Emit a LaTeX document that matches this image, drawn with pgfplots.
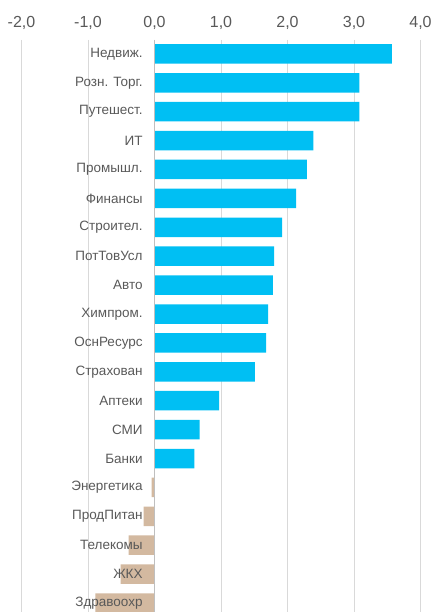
\documentclass[border=0pt]{standalone}
\usepackage{pgfplots}
\pgfplotsset{compat=1.18}
\usepackage{fontspec}
\setmainfont{Liberation Sans}
\definecolor{barblue}{RGB}{0,191,243}
\definecolor{bartan}{RGB}{211,185,160}
\definecolor{txtgray}{RGB}{89,89,89}
\definecolor{gridgray}{RGB}{217,217,217}
\definecolor{zerogray}{RGB}{191,191,191}
\tikzset{cat/.style={font=\fontsize{13.5}{13.5}\selectfont, text=txtgray, anchor=east, xshift=-11.7pt, inner sep=0pt}}
\begin{document}
\begin{tikzpicture}
\useasboundingbox (0,0) rectangle (433pt,612pt);
\begin{axis}[
  at={(21.5pt,0pt)}, anchor=south west,
  scale only axis, width=399pt, height=572pt,
  xmin=-2, xmax=4, ymin=-0.48, ymax=19.31,
  y dir=reverse,
  xbar, bar width=19.5pt,
  axis line style={draw=none},
  xtick={-2,-1,0,1,2,3,4},
  ytick=\empty,
  xticklabel pos=top,
  xmajorgrids, grid style={gridgray, line width=0.8pt},
  major tick length=0pt,
  xticklabel style={font=\fontsize{16}{16}\selectfont, text=txtgray, yshift=7pt},
  /pgf/number format/.cd, fixed, fixed zerofill, precision=1, use comma, assume math mode=true,
  /pgfplots/.cd,
  clip=false,
]
\addplot[draw=none, fill=barblue, bar shift=0pt] coordinates {
(3.57,0) (3.08,1) (3.08,2) (2.39,3) (2.29,4) (2.13,5) (1.92,6) (1.80,7) (1.78,8) (1.71,9)
(1.68,10) (1.51,11) (0.97,12) (0.68,13) (0.60,14)
};
\addplot[draw=none, fill=bartan, bar shift=0pt] coordinates {
(-0.045,15) (-0.165,16) (-0.39,17) (-0.51,18) (-0.89,19)
};
\draw[zerogray, line width=1pt] (axis cs:0,-0.48) -- (axis cs:0,19.31);
\node[cat] at (axis cs:0,0) {Недвиж.};
\node[cat] at (axis cs:0,1) {Розн. Торг.};
\node[cat] at (axis cs:0,2) {Путешест.};
\node[cat] at (axis cs:0,3) {ИТ};
\node[cat] at (axis cs:0,4) {Промышл.};
\node[cat] at (axis cs:0,5) {Финансы};
\node[cat] at (axis cs:0,6) {Строител.};
\node[cat] at (axis cs:0,7) {ПотТовУсл};
\node[cat] at (axis cs:0,8) {Авто};
\node[cat] at (axis cs:0,9) {Химпром.};
\node[cat] at (axis cs:0,10) {ОснРесурс};
\node[cat] at (axis cs:0,11) {Страхован};
\node[cat] at (axis cs:0,12) {Аптеки};
\node[cat] at (axis cs:0,13) {СМИ};
\node[cat] at (axis cs:0,14) {Банки};
\node[cat] at (axis cs:0,15) {Энергетика};
\node[cat] at (axis cs:0,16) {ПродПитан};
\node[cat] at (axis cs:0,17) {Телекомы};
\node[cat] at (axis cs:0,18) {ЖКХ};
\node[cat] at (axis cs:0,19) {Здравоохр};
\end{axis}
\end{tikzpicture}
\end{document}
